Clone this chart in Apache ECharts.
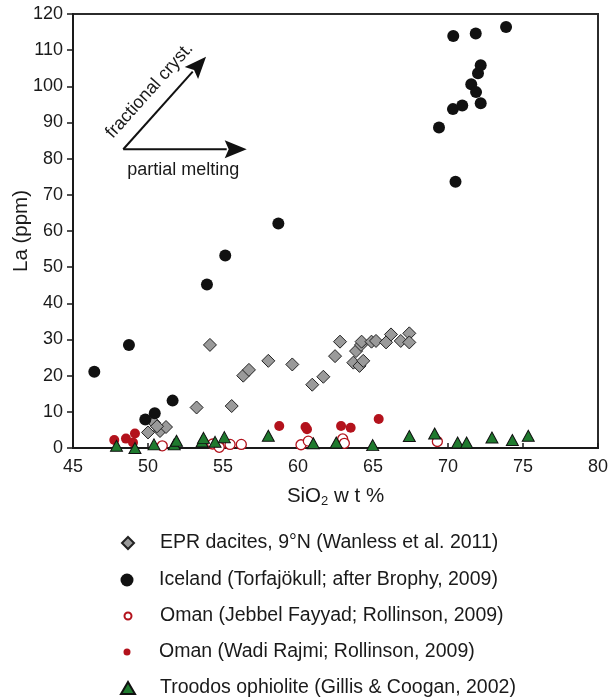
<!DOCTYPE html>
<html><head><meta charset="utf-8">
<script src="https://cdn.jsdelivr.net/npm/echarts@6/dist/echarts.min.js"></script>
<style>html,body{margin:0;padding:0;background:#fff}#c{width:611px;height:699px}</style>
</head><body><div id="c"></div>
<script>
const xTicks = {min: 45, max: 80, interval: 5};
const yTicks = {min: 0, max: 120, interval: 10};
const seriesNames = [
  'EPR dacites, 9°N (Wanless et al. 2011)',
  'Iceland (Torfajökull; after Brophy, 2009)',
  'Oman (Jebbel Fayyad; Rollinson, 2009)',
  'Oman (Wadi Rajmi; Rollinson, 2009)',
  'Troodos ophiolite (Gillis & Coogan, 2002)'
];
const eprData = [[50.0,4.3],[50.4,7.0],[50.8,4.7],[51.2,5.8],[50.6,6.0],[53.24,11.2],[55.58,11.6],[54.13,28.5],[56.35,20.0],[56.73,21.6],[58.02,24.1],[59.62,23.1],[60.95,17.5],[61.69,19.7],[62.47,25.4],[62.8,29.4],[63.69,23.6],[64.1,22.7],[64.35,24.1],[63.87,26.8],[64.2,28.5],[64.24,29.4],[64.9,29.4],[65.2,29.6],[65.87,29.2],[66.2,31.4],[66.85,29.6],[67.42,31.7],[67.42,29.2]];
const icelandData = [[46.42,21.1],[48.73,28.5],[49.82,7.9],[50.45,9.6],[51.64,13.1],[53.93,45.2],[55.15,53.2],[58.69,62.1],[69.4,88.6],[70.5,73.6],[70.33,93.7],[70.95,94.7],[71.55,100.6],[71.87,98.4],[72.18,95.3],[72.0,103.6],[72.18,105.8],[70.35,113.9],[71.85,114.6],[73.87,116.4]];
const omanFayyadData = [[50.95,0.6],[54.31,1.1],[54.75,0.2],[55.47,1.0],[56.22,1.0],[60.2,0.9],[60.69,1.9],[62.98,2.5],[63.09,1.3],[69.29,1.8]];
const omanRajmiData = [[47.75,2.2],[48.53,2.6],[49.13,4.0],[49.0,1.5],[58.75,6.1],[60.5,5.8],[60.6,5.2],[62.87,6.1],[63.51,5.6],[65.38,8.0]];
const troodosData = [[47.9,0.6],[49.13,0],[50.4,1.0],[51.75,1.0],[51.9,2.0],[53.6,1.8],[53.7,2.8],[54.47,1.7],[55.09,3.0],[58.02,3.4],[61.02,1.3],[62.55,1.5],[64.98,0.8],[67.42,3.3],[69.11,4.0],[70.64,1.5],[71.24,1.5],[72.93,2.9],[74.29,2.2],[75.35,3.4]];
// annotation arrows in data coordinates
const arrowOrigin = [48.35, 82.6];
const arrowFrac = [53.87, 108.2];
const arrowMelt = [56.58, 82.6];
const labelFrac = {text: 'fractional cryst.', at: [50.1, 98.8]};
const labelMelt = {text: 'partial melting', at: [52.35, 76.9]};

const FONT = '"Liberation Sans", Arial, Helvetica, sans-serif';
const RED = '#b3121c';
const GREEN = '#1f7a2e';
const INK = '#1a1a1a';

const chart = echarts.init(document.getElementById('c'), null, {renderer: 'canvas'});

const legendSpec = [
  {w: 12, h: 12, cy: 543},
  {w: 13, h: 13, cy: 580},
  {w: 7, h: 7, cy: 616},
  {w: 7, h: 7, cy: 652},
  {w: 14, h: 12, cy: 688}
];
const legends = legendSpec.map((s, i) => ({
  data: [seriesNames[i]],
  left: 127 - s.w / 2,
  top: s.cy - 12,
  padding: 0,
  itemWidth: s.w,
  itemHeight: s.h,
  selectedMode: false,
  textStyle: {fontFamily: FONT, fontSize: 19.5, color: INK, lineHeight: 24, padding: [0, 0, 0, 27 - s.w / 2]}
}));

chart.setOption({
  animation: false,
  backgroundColor: '#fff',
  grid: {left: 73, right: 13, top: 14, bottom: 251, containLabel: false, outerBoundsMode: 'none',
         show: true, borderColor: '#2b2b2b', borderWidth: 2, backgroundColor: 'transparent'},
  legend: legends,
  xAxis: {
    type: 'value', min: xTicks.min, max: xTicks.max, interval: xTicks.interval,
    name: '{a|SiO}{b|2}{a| w t %}', nameLocation: 'middle', nameGap: 36, nameMoveOverlap: false,
    nameTextStyle: {rich: {a: {fontFamily: FONT, fontSize: 20.5, color: INK}, b: {fontFamily: FONT, fontSize: 13, color: INK, padding: [11, 0, 0, 0]}}},
    axisLine: {onZero: false, lineStyle: {color: INK, width: 2}},
    axisTick: {inside: true, length: 5, lineStyle: {color: INK, width: 1.5}},
    axisLabel: {fontFamily: FONT, fontSize: 18, color: INK, margin: 10},
    splitLine: {show: false}
  },
  yAxis: {
    type: 'value', min: yTicks.min, max: yTicks.max, interval: yTicks.interval,
    name: 'La (ppm)', nameLocation: 'middle', nameGap: 41, nameRotate: 90, nameMoveOverlap: false,
    nameTextStyle: {fontFamily: FONT, fontSize: 20.5, color: INK},
    axisLine: {onZero: false, lineStyle: {color: INK, width: 2}},
    axisTick: {inside: false, length: 6, lineStyle: {color: INK, width: 1.5}},
    axisLabel: {fontFamily: FONT, fontSize: 18, color: INK, margin: 10},
    splitLine: {show: false}
  },
  series: [
    {name: seriesNames[0], type: 'scatter', data: eprData, symbol: 'diamond', symbolSize: 13,
     itemStyle: {color: '#9a9a9a', borderColor: '#222', borderWidth: 1, opacity: 1}},
    {name: seriesNames[1], type: 'scatter', data: icelandData, symbol: 'circle', symbolSize: 12,
     itemStyle: {color: '#111', borderWidth: 0, opacity: 1}},
    {name: seriesNames[2], type: 'scatter', data: omanFayyadData, symbol: 'circle', symbolSize: 10,
     itemStyle: {color: '#fff', borderColor: RED, borderWidth: 1.3, opacity: 1}},
    {name: seriesNames[3], type: 'scatter', data: omanRajmiData, symbol: 'circle', symbolSize: 10,
     itemStyle: {color: RED, borderWidth: 0, opacity: 1}},
    {name: seriesNames[4], type: 'scatter', data: troodosData, symbol: 'triangle', symbolSize: [12, 11],
     itemStyle: {color: GREEN, borderColor: '#111', borderWidth: 1, opacity: 1}}
  ]
});

function px(p) { return chart.convertToPixel({gridIndex: 0}, p); }
function arrow(from, to, headLen, headHalf) {
  const a = px(from), b = px(to);
  const dx = b[0] - a[0], dy = b[1] - a[1];
  const L = Math.hypot(dx, dy), ux = dx / L, uy = dy / L;
  const bx = b[0] - ux * headLen, by = b[1] - uy * headLen;
  const nx = -uy, ny = ux;
  return [
    {type: 'line', shape: {x1: a[0], y1: a[1], x2: bx + ux * 2, y2: by + uy * 2}, style: {stroke: '#111', lineWidth: 2}, z: 10},
    {type: 'polygon', shape: {points: [[b[0], b[1]], [bx + nx * headHalf, by + ny * headHalf], [bx + ux * 4, by + uy * 4], [bx - nx * headHalf, by - ny * headHalf]]}, style: {fill: '#111'}, z: 10}
  ];
}
const o = px(arrowOrigin), f = px(arrowFrac);
const ang = Math.atan2(-(f[1] - o[1]), f[0] - o[0]);
const lf = px(labelFrac.at), lm = px(labelMelt.at);
chart.setOption({
  graphic: [
    ...arrow(arrowOrigin, arrowFrac, 22, 9),
    ...arrow(arrowOrigin, arrowMelt, 22, 9),
    {type: 'text', x: lf[0], y: lf[1], rotation: ang, z: 10,
     style: {text: labelFrac.text, fontFamily: FONT, fontSize: 18, fill: INK, align: 'center', verticalAlign: 'middle'}},
    {type: 'text', x: lm[0], y: lm[1], z: 10,
     style: {text: labelMelt.text, fontFamily: FONT, fontSize: 18, fill: INK, align: 'center', verticalAlign: 'middle'}}
  ]
});
</script></body></html>
